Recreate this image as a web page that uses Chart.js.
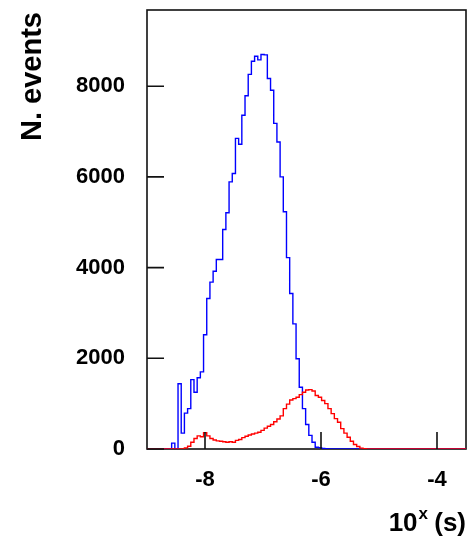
<!DOCTYPE html>
<html>
<head>
<meta charset="utf-8">
<script src="https://cdn.jsdelivr.net/npm/chart.js@4.4.1/dist/chart.umd.min.js"></script>
<style>
  html, body { margin: 0; padding: 0; background: #fff; }
  canvas { display: block; }
</style>
</head>
<body>
<canvas id="grafica" width="467" height="540"></canvas>
<script>
// histogram: 100 bins (log10 of time in s)
const binLo = -8.96;
const binW = 0.055;

// blue histogram, counts per bin
const blueCounts = [
    0, 0, 0, 0, 0, 0, 0, 0, 130, 0,
    1440, 350, 790, 890, 1530, 1250, 1570, 1700, 2520, 3320,
    3680, 3920, 4180, 4180, 4840, 5210, 5890, 6075, 6850, 6720,
    7360, 7790, 8260, 8550, 8660, 8580, 8700, 8690, 8170, 7910,
    7180, 6770, 6000, 5230, 4220, 3430, 2760, 1990, 1360, 890,
    540, 300, 150, 40, 30, 10, 5, 0, 0, 0,
    0, 0, 0, 0, 0, 0, 0, 0, 0, 0,
    0, 0, 0, 0, 0, 0, 0, 0, 0, 0,
    0, 0, 0, 0, 0, 0, 0, 0, 0, 0,
    0, 0, 0, 0, 0, 0, 0, 0, 0, 0
];

// red histogram, counts per bin
const redCounts = [
    0, 0, 0, 0, 0, 0, 0, 0, 0, 0,
    0, 0, 25, 60, 150, 230, 290, 270, 360, 290,
    230, 200, 180, 170, 160, 150, 160, 150, 190, 210,
    250, 280, 310, 330, 350, 370, 410, 460, 500, 540,
    600, 660, 730, 890, 990, 1080, 1110, 1140, 1200, 1250,
    1300, 1310, 1280, 1180, 1140, 1070, 1000, 890, 780, 670,
    590, 450, 350, 260, 170, 100, 55, 20, 5, 0,
    0, 0, 0, 0, 0, 0, 0, 0, 0, 0,
    0, 0, 0, 0, 0, 0, 0, 0, 0, 0,
    0, 0, 0, 0, 0, 0, 0, 0, 0, 0
];

const xTicks = [-8, -6, -4];
const yTicks = [0, 2000, 4000, 6000, 8000];
const xRange = [-9, -3.5];
const yRange = [0, 9680];

const fuente = 'Liberation Sans, Arial, Helvetica, sans-serif';

// bin edges -> points for a stepped line
function aPuntos(counts) {
    const pts = counts.map((v, k) => ({ x: binLo + k * binW, y: v }));
    pts.push({ x: binLo + counts.length * binW, y: counts[counts.length - 1] });
    // baseline down to the left edge of the frame
    pts.unshift({ x: xRange[0], y: counts[0] });
    return pts;
}

// frame, inward ticks and axis titles like ROOT
const marco = {
    id: 'marco',
    beforeDatasetsDraw(chart) {
        const { ctx, chartArea: a } = chart;
        ctx.save();
        ctx.strokeStyle = '#111';
        ctx.lineWidth = 1.6;
        ctx.strokeRect(a.left, a.top, a.right - a.left, a.bottom - a.top);
        ctx.restore();
    },
    afterDatasetsDraw(chart) {
        const { ctx, chartArea: a, scales } = chart;
        ctx.save();
        ctx.strokeStyle = '#111';
        ctx.lineWidth = 1.6;
        ctx.beginPath();
        xTicks.forEach(v => {
            const px = scales.x.getPixelForValue(v);
            ctx.moveTo(px, a.bottom);
            ctx.lineTo(px, a.bottom - 17);
        });
        yTicks.forEach(v => {
            const py = scales.y.getPixelForValue(v);
            ctx.moveTo(a.left, py);
            ctx.lineTo(a.left + 17, py);
        });
        ctx.stroke();

        ctx.fillStyle = '#000';
        // y title
        ctx.save();
        ctx.translate(33, 12);
        ctx.rotate(-Math.PI / 2);
        ctx.font = 'bold 29px ' + fuente;
        ctx.textAlign = 'right';
        ctx.textBaseline = 'middle';
        ctx.fillText('N. events', 0, 0);
        ctx.restore();

        // x title: 10^x (s), right aligned
        const base = 531;
        ctx.textBaseline = 'alphabetic';
        ctx.textAlign = 'left';
        ctx.font = 'bold 26px ' + fuente;
        const wRest = ctx.measureText(' (s)').width;
        const w10 = ctx.measureText('10').width;
        ctx.font = 'bold 17px ' + fuente;
        const wX = ctx.measureText('x').width;
        let x0 = 466 - (w10 + wX + wRest);
        ctx.font = 'bold 26px ' + fuente;
        ctx.fillText('10', x0, base);
        ctx.font = 'bold 17px ' + fuente;
        ctx.fillText('x', x0 + w10 + 1, base - 12);
        ctx.font = 'bold 26px ' + fuente;
        ctx.fillText(' (s)', x0 + w10 + wX, base);
        ctx.restore();
    }
};

const g1 = document.getElementById('grafica').getContext('2d');

const grafica = new Chart(g1, {
    type: 'line',
    data: {
        datasets: [{
            label: 'red',
            data: aPuntos(redCounts),
            borderColor: '#ff0000',
            borderWidth: 1.4,
            stepped: 'after',
            pointRadius: 0,
            fill: false,
            order: 0
        }, {
            label: 'blue',
            data: aPuntos(blueCounts),
            borderColor: '#0000ff',
            borderWidth: 1.4,
            stepped: 'after',
            pointRadius: 0,
            fill: false,
            order: 1
        }]
    },
    options: {
        responsive: false,
        animation: false,
        devicePixelRatio: 1,
        parsing: false,
        layout: { padding: { top: 10, right: 1, left: 0, bottom: 0 } },
        plugins: {
            legend: { display: false },
            tooltip: { enabled: false }
        },
        scales: {
            x: {
                type: 'linear',
                min: xRange[0],
                max: xRange[1],
                grid: { display: false, drawTicks: false },
                border: { display: false },
                ticks: {
                    color: '#000',
                    font: { family: fuente, size: 22, weight: 'bold' },
                    padding: 18,
                    maxRotation: 0,
                    callback: v => String(v)
                },
                afterBuildTicks: s => { s.ticks = xTicks.map(v => ({ value: v })); },
                afterFit: s => {
                    s.height = 91;
                    s.paddingLeft = 0; s.paddingRight = 0;
                    s.paddingTop = 0; s.paddingBottom = 0;
                }
            },
            y: {
                type: 'linear',
                min: yRange[0],
                max: yRange[1],
                grid: { display: false, drawTicks: false },
                border: { display: false },
                ticks: {
                    color: '#000',
                    font: { family: fuente, size: 22, weight: 'bold' },
                    padding: 22,
                    callback: v => String(v)
                },
                afterBuildTicks: s => { s.ticks = yTicks.map(v => ({ value: v })); },
                afterFit: s => {
                    s.width = 147;
                    s.paddingLeft = 0; s.paddingRight = 0;
                    s.paddingTop = 0; s.paddingBottom = 0;
                }
            }
        }
    },
    plugins: [marco]
});
</script>
</body>
</html>
